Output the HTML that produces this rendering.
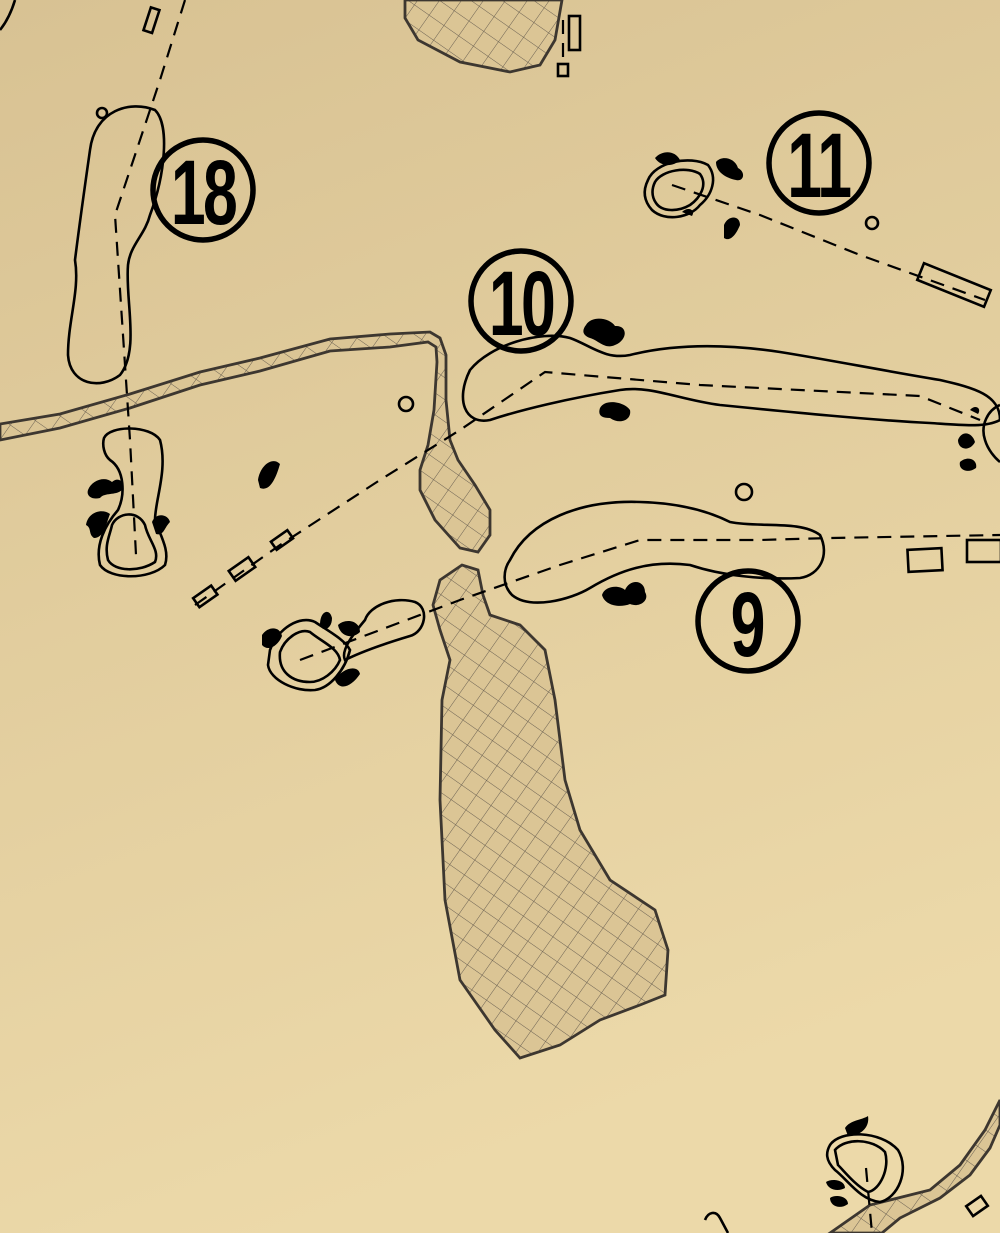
<!DOCTYPE html>
<html><head><meta charset="utf-8"><style>
html,body{margin:0;padding:0;width:1000px;height:1233px;overflow:hidden}
svg{display:block}
.l{fill:none;stroke:#000;stroke-width:2.6}
.d{fill:none;stroke:#000;stroke-width:2.2;stroke-dasharray:14 9}
.w{fill:url(#h);stroke:#3d3730;stroke-width:2.8}
.b{fill:#000}
.n{font-family:"Liberation Sans",sans-serif;font-weight:bold;fill:#000}
</style></head><body>
<svg width="1000" height="1233" viewBox="0 0 1000 1233">
<defs>
<linearGradient id="bg" x1="0" y1="0" x2="0.3" y2="1">
<stop offset="0" stop-color="#d8c293"/><stop offset="1" stop-color="#ecd9a9"/></linearGradient>
<pattern id="h" width="18" height="18" patternUnits="userSpaceOnUse" patternTransform="rotate(35)">
<rect width="18" height="18" fill="#dbc595"/>
<path d="M0 0H18M0 0V18" stroke="#6b6152" stroke-width="1"/></pattern>
</defs>
<rect width="1000" height="1233" fill="url(#bg)"/>

<!-- water -->
<path class="w" d="M405 0 L562 0 L555 40 L540 65 L510 72 L460 62 L418 40 L405 18 Z"/>
<path class="w" d="M0 440 L60 428 L130 408 L200 385 L260 371 L330 351 L390 347 L428 342 L436 347 L437 362 L434 410 L428 445 L420 470 L420 490 L435 520 L460 548 L478 552 L490 535 L490 510 L475 485 L458 460 L450 440 L446 400 L446 355 L440 338 L430 332 L390 334 L330 339 L260 358 L200 372 L130 394 L60 414 L0 424 Z"/>
<path class="w" d="M440 580 L462 565 L478 570 L483 595 L490 615 L520 625 L545 650 L555 700 L565 780 L580 830 L610 880 L655 910 L668 950 L665 995 L640 1005 L600 1020 L560 1045 L520 1058 L495 1030 L460 980 L445 900 L440 800 L442 700 L450 660 L440 630 L433 605 Z"/>
<path class="w" d="M830 1233 L870 1205 L930 1190 L960 1165 L985 1130 L1000 1100 L1000 1125 L990 1148 L970 1175 L940 1198 L900 1218 L882 1233 Z"/>

<!-- hole 18 -->
<path class="l" d="M90 150 C95 110 130 100 155 110 C170 125 165 175 150 215 C145 235 130 245 128 265 C125 300 140 350 120 375 C100 390 70 385 68 355 C68 320 80 290 75 260 C80 220 85 185 90 150 Z"/>
<path class="l" d="M104 438 C110 425 150 425 160 440 C168 470 155 500 155 520 C160 535 170 550 165 565 C150 580 110 580 100 565 C95 545 105 525 118 510 C125 495 125 470 110 460 C104 455 102 445 104 438 Z"/>
<path class="l" d="M112 525 C118 512 138 510 145 525 C148 540 160 550 155 562 C140 572 115 572 108 560 C104 545 110 535 112 525 Z"/>
<path class="d" d="M185 0 L160 80 L115 215 L122 320 L130 440 L136 555"/>
<circle class="l" cx="102" cy="113" r="5"/>
<rect class="l" x="147" y="8" width="9" height="24" transform="rotate(18 151 20)"/>
<path class="b" d="M88 490 C92 480 105 476 112 482 C118 476 126 482 122 490 C115 496 105 492 100 498 C92 500 86 496 88 490 Z M86 525 C88 512 102 508 110 514 C106 524 104 538 94 538 C88 534 92 528 86 525 Z M152 522 C156 512 168 514 170 522 C164 528 164 536 156 534 Z M258 480 C260 466 272 456 280 464 C276 478 270 492 260 488 Z"/>
<circle cx="203" cy="190" r="50" fill="none" stroke="#000" stroke-width="5.5"/>
<text class="n" x="203" y="224" font-size="92" text-anchor="middle" transform="translate(203 0) scale(0.68 1) translate(-203 0)" letter-spacing="-4">18</text>

<!-- hole 10 -->
<path class="l" d="M470 370 C490 345 540 330 570 338 C590 345 605 360 630 355 C670 345 720 343 780 352 C830 360 880 370 940 380 C975 388 1000 395 1000 420 C985 428 960 425 930 423 C870 420 790 412 720 405 C680 400 650 385 620 390 C570 398 520 410 490 420 C465 425 455 400 470 370 Z"/>
<path class="d" d="M195 605 L280 545 L380 480 L460 430 L545 372 L700 385 L920 396 L980 420"/>
<path class="l" d="M1000 405 C988 410 980 425 985 440 C988 450 995 458 1000 462"/>
<circle class="l" cx="406" cy="404" r="7"/>
<rect class="l" x="194" y="591" width="22" height="11" transform="rotate(-35 205 596)"/>
<rect class="l" x="230" y="563" width="24" height="12" transform="rotate(-35 242 569)"/>
<rect class="l" x="272" y="535" width="20" height="10" transform="rotate(-35 282 540)"/>
<path class="b" d="M586 325 C592 315 610 318 615 326 C628 325 628 340 615 345 C605 350 598 340 590 338 C582 335 582 330 586 325 Z M600 408 C605 398 625 402 630 410 C632 420 620 425 610 418 C600 418 598 414 600 408 Z M958 440 C962 430 972 432 975 442 C970 452 958 450 958 440 Z M960 462 C968 455 978 460 976 468 C968 474 958 470 960 462 Z M970 410 C975 404 982 408 978 414 Z"/>
<circle cx="521" cy="301" r="50" fill="none" stroke="#000" stroke-width="5.5"/>
<text class="n" x="521" y="335" font-size="92" text-anchor="middle" transform="translate(521 0) scale(0.68 1) translate(-521 0)" letter-spacing="-4">10</text>

<!-- hole 9 -->
<path class="l" d="M510 560 C530 520 580 500 640 502 C680 503 710 512 730 522 C760 528 800 520 820 535 C830 555 820 575 800 578 C760 580 720 575 690 565 C650 560 620 570 590 588 C570 600 530 610 512 595 C502 585 503 570 510 560 Z"/>
<path class="d" d="M300 660 L380 630 L460 600 L560 565 L640 540 L760 540 L830 538 L1000 535"/>
<rect class="l" x="908" y="549" width="34" height="22" transform="rotate(-3 925 560)"/>
<rect class="l" x="967" y="540" width="34" height="22"/>
<circle class="l" cx="744" cy="492" r="8"/>
<path class="b" d="M602 595 C605 585 620 585 625 590 C630 578 645 580 645 592 C650 600 640 608 630 604 C620 608 605 606 602 595 Z"/>
<path class="l" d="M365 620 C370 605 395 596 415 602 C430 608 425 632 410 636 C390 642 365 650 345 660 C340 650 355 632 365 620 Z"/>
<path class="l" d="M270 650 C278 628 300 615 315 622 C330 632 345 640 350 650 C345 670 330 688 315 690 C295 692 270 680 268 665 Z"/>
<path class="l" d="M280 652 C285 638 300 628 310 632 C322 642 338 648 340 660 C335 672 322 682 310 682 C292 682 278 672 280 652 Z"/>
<path class="b" d="M262 635 C268 626 280 626 282 636 C278 646 268 652 262 645 Z M320 625 C320 610 330 608 332 618 C332 630 322 632 320 625 Z M338 625 C345 618 360 620 360 632 C352 640 340 636 338 625 Z M335 680 C342 668 358 664 360 674 C352 686 340 692 335 680 Z"/>
<circle cx="748" cy="621" r="50" fill="none" stroke="#000" stroke-width="5.5"/>
<text class="n" x="748" y="656" font-size="92" text-anchor="middle" transform="translate(748 0) scale(0.68 1) translate(-748 0)">9</text>

<!-- hole 11 -->
<path class="l" d="M648 180 C655 162 690 155 708 165 C718 178 712 195 700 205 C690 218 665 222 652 210 C643 200 643 190 648 180 Z"/>
<path class="l" d="M655 182 C662 170 688 166 700 174 C708 185 700 198 690 205 C678 212 662 212 656 203 C651 196 652 188 655 182 Z"/>
<path class="d" d="M672 185 L760 215 L860 255 L985 300"/>
<rect class="l" x="918" y="276" width="72" height="18" transform="rotate(22 954 285)"/>
<circle class="l" cx="872" cy="223" r="6"/>
<path class="b" d="M655 158 C662 150 675 150 680 160 C672 168 660 166 655 158 Z M716 162 C722 155 735 158 738 168 C746 172 744 182 736 180 C726 178 716 172 716 162 Z M724 225 C728 215 740 215 740 225 C736 235 730 242 724 238 Z M682 212 C688 206 696 210 692 216 Z"/>
<circle cx="819" cy="163" r="50" fill="none" stroke="#000" stroke-width="5.5"/>
<text class="n" x="819" y="197" font-size="92" text-anchor="middle" transform="translate(819 0) scale(0.68 1) translate(-819 0)" letter-spacing="-2">11</text>

<!-- top small -->
<rect class="l" x="569" y="16" width="11" height="34"/>
<rect class="l" x="558" y="64" width="10" height="12"/>
<path class="d" d="M563 20 L563 65"/>
<path class="l" d="M0 30 C8 20 12 10 15 0"/>

<!-- bottom right green -->
<path class="l" d="M830 1145 C840 1130 880 1130 898 1150 C910 1170 898 1198 880 1202 C860 1200 848 1180 835 1170 C825 1160 826 1152 830 1145 Z"/>
<path class="l" d="M835 1150 C845 1138 872 1138 885 1152 C890 1168 880 1190 868 1192 C855 1185 845 1172 838 1165 Z"/>
<path class="d" d="M866 1168 L872 1233"/>
<path class="b" d="M845 1128 C850 1120 862 1120 868 1116 C870 1128 860 1136 848 1136 Z M826 1182 C832 1178 845 1180 845 1188 C838 1192 828 1190 826 1182 Z M830 1198 C835 1194 848 1196 848 1204 C840 1210 830 1206 830 1198 Z"/>
<rect class="l" x="968" y="1200" width="18" height="12" transform="rotate(-35 977 1206)"/>
<path class="l" d="M705 1220 C708 1212 716 1210 720 1218 L728 1233"/>
</svg>
</body></html>
